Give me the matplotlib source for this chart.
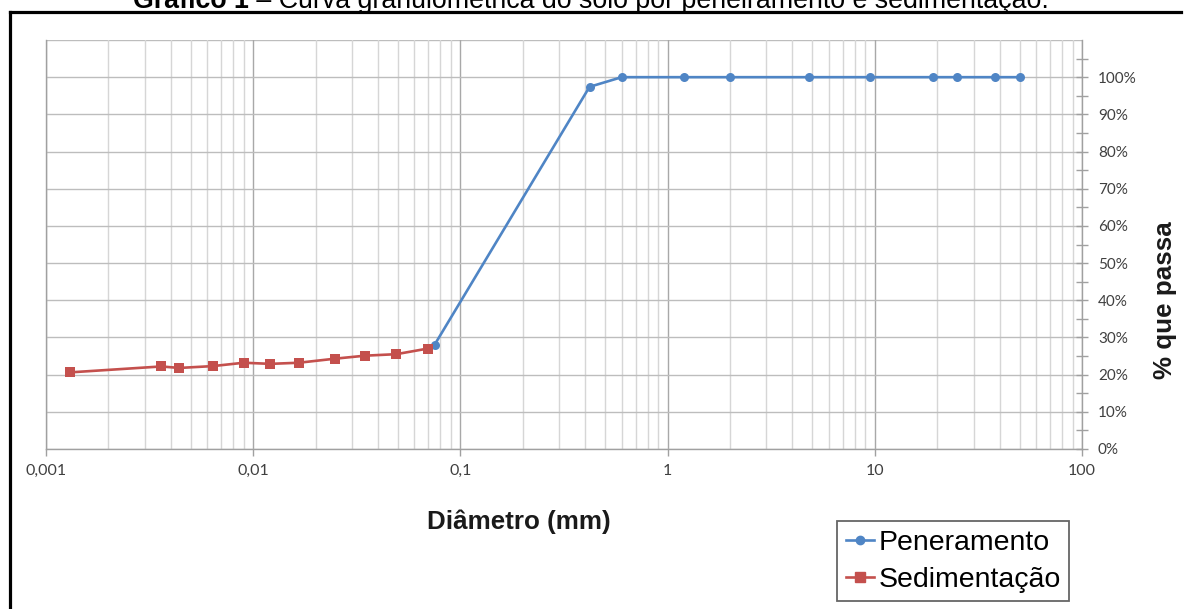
import matplotlib
matplotlib.use("Agg")
import matplotlib.pyplot as plt
from matplotlib.ticker import LogLocator, FixedLocator, FixedFormatter, PercentFormatter, NullFormatter
from matplotlib.lines import Line2D

# Peneiramento (sieving): sieve opening (mm) and percent passing
pen_diam = [0.075, 0.42, 0.6, 1.2, 2.0, 4.8, 9.5, 19, 25, 38, 50]
pen_pass = [28.0, 97.4, 100, 100, 100, 100, 100, 100, 100, 100, 100]

# Sedimentação (hydrometer): equivalent diameter (mm) and percent passing
sed_diam = [0.0013, 0.0036, 0.0044, 0.0064, 0.0090, 0.0121, 0.0166, 0.0249, 0.0347, 0.049, 0.0694]
sed_pass = [20.6, 22.2, 21.8, 22.3, 23.2, 22.9, 23.2, 24.3, 25.1, 25.5, 27.0]

x_ticks = [0.001, 0.01, 0.1, 1, 10, 100]
x_tick_labels = ["0,001", "0,01", "0,1", "1", "10", "100"]

title_bold = "Gráfico 1"
title_rest = " – Curva granulométrica do solo por peneiramento e sedimentação."

W, H = 1184, 609
fig = plt.figure(figsize=(W / 100, H / 100), dpi=100)
fig.patch.set_facecolor("white")

def fx(px):
    return px / W

def fy(py):
    return 1 - py / H

ax = fig.add_axes([fx(46), fy(449), fx(1082) - fx(46), fy(40) - fy(449)])

blue = "#4F85C5"
red = "#C4504D"

ax.plot(pen_diam, pen_pass, color=blue, lw=1.9, marker="o", ms=6.5,
        markeredgewidth=0, zorder=4, label="Peneramento")
ax.plot(sed_diam, sed_pass, color=red, lw=1.9, marker="s", ms=7.2,
        markeredgewidth=0, zorder=5, label="Sedimentação")

ax.set_xscale("log")
ax.set_xlim(0.001, 100)
ax.set_ylim(0, 110)

# grid: decades darker, intermediate lines lighter
ax.xaxis.set_major_locator(FixedLocator(x_ticks))
ax.xaxis.set_major_formatter(FixedFormatter(x_tick_labels))
ax.xaxis.set_minor_locator(LogLocator(base=10, subs=range(2, 10), numticks=20))
ax.xaxis.set_minor_formatter(NullFormatter())
ax.grid(which="major", axis="x", color="#A8A8A8", lw=1.0, zorder=0)
ax.grid(which="minor", axis="x", color="#D6D6D6", lw=1.0, zorder=0)

ax.yaxis.set_major_locator(FixedLocator([0, 10, 20, 30, 40, 50, 60, 70, 80, 90, 100]))
ax.yaxis.set_major_formatter(PercentFormatter(xmax=100, decimals=0))
ax.yaxis.set_minor_locator(FixedLocator([5, 15, 25, 35, 45, 55, 65, 75, 85, 95, 105]))
ax.grid(which="major", axis="y", color="#BDBDBD", lw=1.0, zorder=0)
ax.axhline(110, color="#BDBDBD", lw=1.0, zorder=0)

ax.yaxis.tick_right()
ax.yaxis.set_label_position("right")

for side in ["left", "bottom", "right"]:
    ax.spines[side].set_color("#A0A0A0")
    ax.spines[side].set_linewidth(1.0)
ax.spines["top"].set_visible(False)

ax.tick_params(axis="x", which="major", direction="out", length=5, width=1,
               color="#A0A0A0", pad=6, labelcolor="#404040", labelsize=11.5)
ax.tick_params(axis="x", which="minor", length=0)
ax.tick_params(axis="y", which="both", direction="inout", length=9, width=1,
               color="#A0A0A0", pad=7, labelcolor="#404040", labelsize=11.0,
               left=False, right=True)
for lab in ax.get_xticklabels() + ax.get_yticklabels():
    lab.set_fontfamily("Lato")

# axis titles
fig.text(fx(519), fy(522), "Diâmetro (mm)", family="Liberation Sans",
         weight="bold", size=18.7, ha="center", va="center", color="#1A1A1A")
fig.text(fx(1165), fy(300), "% que passa", family="Liberation Sans",
         weight="bold", size=18.7, ha="center", va="center", rotation=90,
         color="#1A1A1A")

# legend
handles = [
    Line2D([], [], color=blue, lw=1.9, marker="o", ms=6),
    Line2D([], [], color=red, lw=1.9, marker="s", ms=7),
]
leg = fig.legend(handles, ["Peneramento", "Sedimentação"], loc="upper left",
                 bbox_to_anchor=(fx(837), fy(521)), bbox_transform=fig.transFigure,
                 prop=dict(family="Liberation Sans", size=20.5), frameon=True,
                 fancybox=False, shadow=False, borderaxespad=0, borderpad=0.3,
                 handlelength=1.0, handletextpad=0.15, labelspacing=0.4,
                 markerscale=1.0)
leg.get_frame().set_edgecolor("#404040")
leg.get_frame().set_linewidth(1.3)

# outer frame
fig.add_artist(Line2D([fx(9.5), fx(9.5)], [fy(12), fy(620)], transform=fig.transFigure,
                      color="black", lw=2.3, solid_capstyle="projecting"))
fig.add_artist(Line2D([fx(9.5), fx(1181)], [fy(12), fy(12)], transform=fig.transFigure,
                      color="black", lw=2.3, solid_capstyle="projecting"))

# caption, partly above the image top
renderer = fig.canvas.get_renderer()
t1 = fig.text(fx(133), fy(7.5), title_bold, family="Liberation Sans", weight="bold",
              size=19.3, ha="left", va="baseline", color="black")
bb = t1.get_window_extent(renderer=renderer)
fig.text(bb.x1 / W, fy(7.5), title_rest, family="Liberation Sans",
         size=19.3, ha="left", va="baseline", color="black")

fig.savefig("out.png", dpi=100, facecolor="white")
